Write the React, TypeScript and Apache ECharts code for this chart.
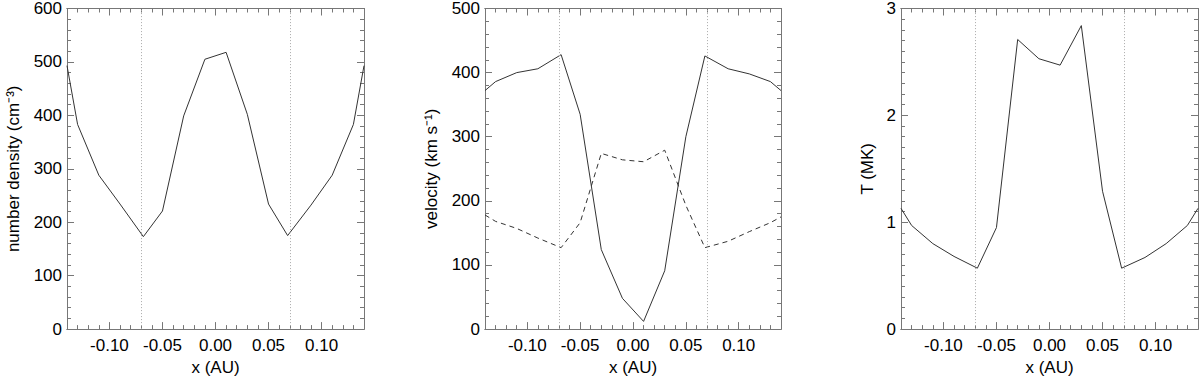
import React, { useEffect, useRef } from "react";
import * as echarts from "echarts";

const xs = [-0.14, -0.13, -0.11, -0.09, -0.068, -0.05, -0.03, -0.01, 0.01, 0.03, 0.05, 0.068, 0.09, 0.11, 0.13, 0.14];
const density = [493, 383, 288, 234, 173, 221, 399, 505, 518, 402, 234, 175, 232, 288, 383, 493];
const velocitySolid = [372, 386, 400, 406, 428, 335, 124, 48, 12, 91, 300, 426, 406, 398, 386, 372];
const velocityDashed = [178, 168, 157, 142, 127, 166, 274, 264, 261, 279, 193, 127, 137, 152, 166, 175];
const temperature = [1.13, 0.97, 0.8, 0.68, 0.57, 0.95, 2.71, 2.53, 2.47, 2.84, 1.29, 0.57, 0.67, 0.8, 0.97, 1.13];
const boundaries = [-0.068, 0.068];
const xMajorTicks = [-0.1, -0.05, 0, 0.05, 0.1];
const xMinorTicks = [-0.14, -0.13, -0.12, -0.11, -0.09, -0.08, -0.07, -0.06, -0.04, -0.03, -0.02, -0.01, 0.01, 0.02, 0.03, 0.04, 0.06, 0.07, 0.08, 0.09, 0.11, 0.12, 0.13, 0.14];

const FONT = "Liberation Sans, Arial, Helvetica, sans-serif";
const FS = 17;
const AXIS_COLOR = "#777";
const LINE_COLOR = "#333";

const panels = [
  { left: 67, width: 297, yMax: 600, yInterval: 100, ySplit: 5, yName: "number density (cm⁻³)", nameGap: 45 },
  { left: 485, width: 296, yMax: 500, yInterval: 100, ySplit: 5, yName: "velocity (km s⁻¹)", nameGap: 45 },
  { left: 901, width: 297, yMax: 3, yInterval: 1, ySplit: 10, yName: "T (MK)", nameGap: 25 },
];

function pairs(ys: number[]) {
  return xs.map((x, i) => [x, ys[i]]);
}

export default function App() {
  const ref = useRef<HTMLDivElement>(null);
  useEffect(() => {
    if (!ref.current) return;
    const chart = echarts.init(ref.current, null, { renderer: "svg" });
    const grid: any[] = [];
    const xAxis: any[] = [];
    const yAxis: any[] = [];
    panels.forEach((p, g) => {
      grid.push({ left: p.left, width: p.width, top: 5, height: 328 });
      const baseX = {
        type: "value",
        gridIndex: g,
        min: -0.14,
        max: 0.14,
        splitLine: { show: false },
        axisLine: { show: true, onZero: false, lineStyle: { color: AXIS_COLOR, width: 1 } },
      };
      xAxis.push({
        ...baseX,
        position: "bottom",
        name: "x (AU)",
        nameLocation: "middle",
        nameGap: 26,
        nameTextStyle: { fontFamily: FONT, fontSize: FS, color: "#000" },
        axisTick: { show: true, inside: true, length: 7, customValues: xMajorTicks, lineStyle: { color: AXIS_COLOR } },
        axisLabel: {
          show: true,
          customValues: xMajorTicks,
          margin: 8,
          fontFamily: FONT,
          fontSize: FS,
          color: "#000",
          formatter: (v: number) => v.toFixed(2),
        },
      });
      xAxis.push({
        ...baseX,
        position: "bottom",
        axisTick: { show: true, inside: true, length: 4, customValues: xMinorTicks, lineStyle: { color: AXIS_COLOR } },
        axisLabel: { show: false },
      });
      xAxis.push({
        ...baseX,
        position: "top",
        axisTick: { show: true, inside: true, length: 7, customValues: xMajorTicks, lineStyle: { color: AXIS_COLOR } },
        axisLabel: { show: false },
      });
      xAxis.push({
        ...baseX,
        position: "top",
        axisTick: { show: true, inside: true, length: 4, customValues: xMinorTicks, lineStyle: { color: AXIS_COLOR } },
        axisLabel: { show: false },
      });
      const baseY = {
        type: "value",
        gridIndex: g,
        min: 0,
        max: p.yMax,
        interval: p.yInterval,
        splitLine: { show: false },
        axisLine: { show: true, onZero: false, lineStyle: { color: AXIS_COLOR, width: 1 } },
        axisTick: { show: true, inside: true, length: 7, lineStyle: { color: AXIS_COLOR } },
        minorTick: { show: true, splitNumber: p.ySplit, length: 4, lineStyle: { color: AXIS_COLOR } },
      };
      yAxis.push({
        ...baseY,
        position: "left",
        name: p.yName,
        nameLocation: "middle",
        nameGap: p.nameGap,
        nameTextStyle: { fontFamily: FONT, fontSize: FS, color: "#000" },
        axisLabel: { show: true, margin: 5, fontFamily: FONT, fontSize: FS, color: "#000" },
      });
      yAxis.push({
        ...baseY,
        position: "right",
        axisLabel: { show: false },
      });
    });

    const markLine = {
      silent: true,
      symbol: ["none", "none"],
      label: { show: false },
      lineStyle: { type: [1, 2], color: "#aaa", width: 1 },
      data: boundaries.map((b) => ({ xAxis: b })),
    };

    const series: any[] = [
      {
        type: "line",
        xAxisIndex: 0,
        yAxisIndex: 0,
        data: pairs(density),
        showSymbol: false,
        lineStyle: { color: LINE_COLOR, width: 1 },
        markLine,
      },
      {
        type: "line",
        xAxisIndex: 4,
        yAxisIndex: 2,
        data: pairs(velocitySolid),
        showSymbol: false,
        lineStyle: { color: LINE_COLOR, width: 1 },
        markLine,
      },
      {
        type: "line",
        xAxisIndex: 4,
        yAxisIndex: 2,
        data: pairs(velocityDashed),
        showSymbol: false,
        lineStyle: { color: LINE_COLOR, width: 1, type: [5, 4] },
      },
      {
        type: "line",
        xAxisIndex: 8,
        yAxisIndex: 4,
        data: pairs(temperature),
        showSymbol: false,
        lineStyle: { color: LINE_COLOR, width: 1 },
        markLine,
      },
    ];

    chart.setOption({
      animation: false,
      backgroundColor: "#fff",
      textStyle: { fontFamily: FONT },
      grid,
      xAxis,
      yAxis,
      series,
    });
    return () => chart.dispose();
  }, []);
  return <div ref={ref} style={{ position: "fixed", left: 0, top: 0, width: 1200, height: 381 }} />;
}
